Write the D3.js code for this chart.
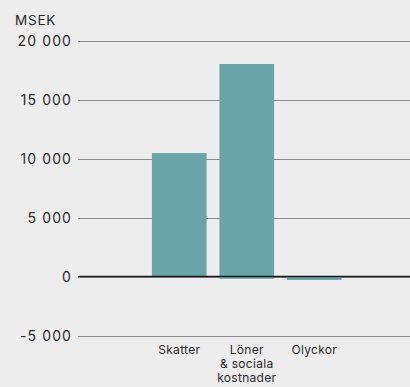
<!DOCTYPE html>
<html>
<head>
<meta charset="utf-8">
<script src="https://cdn.jsdelivr.net/npm/d3@7"></script>
<style>
  html, body { margin: 0; padding: 0; background: #ededed; }
  svg { display: block; }
  text { font-family: Inter, "Noto Sans", sans-serif; fill: #2a2a2a; }
</style>
</head>
<body>
<svg id="chart" width="410" height="387"></svg>
<script>
// Categories (multi-line labels) and values in MSEK
const categories = ["Skatter", "Löner\n& sociala\nkostnader", "Olyckor"];
const positiveValues = [10500, 18050, 0];
const negativeValues = [0, -150, -250];
const tickValues = [-5000, 0, 5000, 10000, 15000, 20000];
const unitLabel = "MSEK";

const width = 410, height = 387;
const svg = d3.select("#chart");

const y = d3.scaleLinear().domain([-5000, 20000]).range([336, 41]);
const x = d3.scaleBand()
  .domain(categories)
  .range([145.5, 348])
  .paddingInner(0.19)
  .paddingOuter(0.095);

// Swedish-style thousands separator, plain hyphen for negatives
const fmt = d => d3.format(",")(d).replace(/,/g, " ").replace("\u2212", "-");

// Gridlines + tick labels
const axis = d3.axisLeft(y)
  .tickValues(tickValues)
  .tickSize(-(width - 78))
  .tickPadding(6)
  .tickFormat(fmt);

const gAxis = svg.append("g")
  .attr("transform", "translate(78,0)")
  .call(axis);
gAxis.select(".domain").remove();
gAxis.selectAll(".tick line").attr("stroke", "#8a8a8a").attr("stroke-width", 1);
gAxis.selectAll(".tick text")
  .attr("x", -6)
  .style("font-size", "14px")
  .style("letter-spacing", "1.1px")
  .style("fill", "#2a2a2a");

// Bars
const barData = categories.map((c, i) => ({ c, pos: positiveValues[i], neg: negativeValues[i] }));
const gBars = svg.append("g");
gBars.selectAll("rect.pos")
  .data(barData.filter(d => d.pos > 0))
  .join("rect")
  .attr("class", "pos")
  .attr("x", d => x(d.c))
  .attr("width", x.bandwidth())
  .attr("y", d => y(d.pos))
  .attr("height", d => y(0) - y(d.pos))
  .attr("fill", "#69a4a8");
gBars.selectAll("rect.neg")
  .data(barData.filter(d => d.neg < 0))
  .join("rect")
  .attr("class", "neg")
  .attr("x", d => x(d.c))
  .attr("width", x.bandwidth())
  .attr("y", y(0))
  .attr("height", d => y(d.neg) - y(0))
  .attr("fill", "#69a4a8");

// Zero baseline
svg.append("line")
  .attr("x1", 78).attr("x2", width)
  .attr("y1", Math.round(y(0)) - 0.5).attr("y2", Math.round(y(0)) - 0.5)
  .attr("stroke", "#1a1a1a").attr("stroke-width", 1.5);

// Category labels
const gLabels = svg.append("g");
categories.forEach(c => {
  const cx = x(c) + x.bandwidth() / 2;
  const t = gLabels.append("text")
    .attr("x", cx)
    .attr("y", 354)
    .attr("text-anchor", "middle")
    .style("font-size", "12px")
    .style("letter-spacing", "0.3px");
  c.split("\n").forEach((line, i) => {
    t.append("tspan")
      .attr("x", cx)
      .attr("dy", i === 0 ? 0 : 14)
      .text(line);
  });
});

// Unit label
svg.append("text")
  .attr("x", 15).attr("y", 25)
  .style("font-size", "13.5px")
  .style("letter-spacing", "0.8px")
  .text(unitLabel);
</script>
</body>
</html>
